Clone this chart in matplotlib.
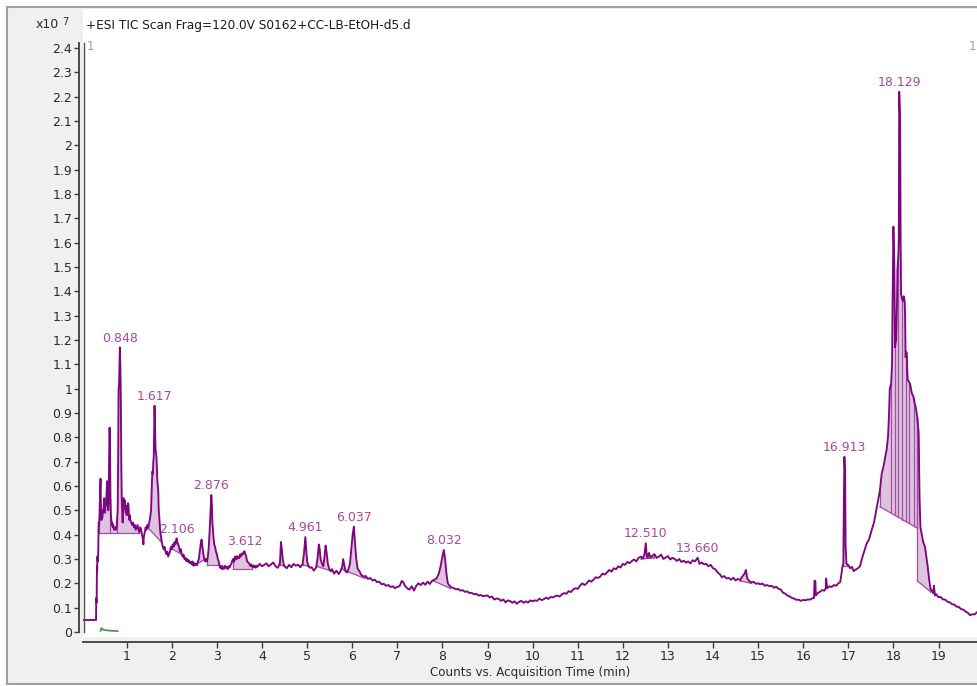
import numpy as np
import matplotlib
matplotlib.use("Agg")
import matplotlib.pyplot as plt
from matplotlib.patches import Rectangle
from matplotlib.lines import Line2D

# ---------------- data (intensity in units of 1e7 counts) ----------------
TITLE = "+ESI TIC Scan Frag=120.0V S0162+CC-LB-EtOH-d5.d"
XLABEL = "Counts vs. Acquisition Time (min)"
X_TICKS = [1, 2, 3, 4, 5, 6, 7, 8, 9, 10, 11, 12, 13, 14, 15, 16, 17, 18, 19]
Y_TICKS = [0, 0.1, 0.2, 0.3, 0.4, 0.5, 0.6, 0.7, 0.8, 0.9, 1.0, 1.1, 1.2,
           1.3, 1.4, 1.5, 1.6, 1.7, 1.8, 1.9, 2.0, 2.1, 2.2, 2.3, 2.4]
Y_TICK_LABELS = ["0", "0.1", "0.2", "0.3", "0.4", "0.5", "0.6", "0.7", "0.8",
                 "0.9", "1", "1.1", "1.2", "1.3", "1.4", "1.5", "1.6", "1.7",
                 "1.8", "1.9", "2", "2.1", "2.2", "2.3", "2.4"]

seg_void = [(0.05, 0.049), (0.10, 0.05), (0.15, 0.049), (0.20, 0.05), (0.25, 0.049),
            (0.30, 0.05), (0.32, 0.049)]

seg_early = [
    (0.325, 0.14), (0.33, 0.12), (0.335, 0.15), (0.34, 0.27), (0.345, 0.25), (0.35, 0.31),
    (0.36, 0.29), (0.37, 0.33), (0.375, 0.42), (0.38, 0.45), (0.39, 0.44), (0.40, 0.50),
    (0.41, 0.58), (0.42, 0.63), (0.43, 0.50), (0.44, 0.46), (0.45, 0.48), (0.46, 0.47),
    (0.47, 0.50), (0.48, 0.49), (0.49, 0.52), (0.50, 0.55), (0.51, 0.50), (0.52, 0.49),
    (0.53, 0.53), (0.54, 0.52), (0.55, 0.56), (0.56, 0.60), (0.57, 0.62), (0.58, 0.55),
    (0.59, 0.50), (0.60, 0.53), (0.61, 0.72), (0.62, 0.84), (0.63, 0.78), (0.64, 0.55),
    (0.65, 0.48), (0.66, 0.46), (0.67, 0.44), (0.68, 0.45), (0.69, 0.43), (0.70, 0.44),
    (0.72, 0.42), (0.74, 0.43), (0.76, 0.42), (0.78, 0.44), (0.80, 0.50), (0.81, 0.70),
    (0.82, 1.00), (0.83, 1.01), (0.84, 1.10), (0.848, 1.17), (0.86, 1.09), (0.87, 0.95),
    (0.88, 0.70), (0.89, 0.55), (0.90, 0.50), (0.91, 0.45), (0.92, 0.50), (0.93, 0.55),
    (0.94, 0.53), (0.95, 0.51), (0.96, 0.54), (0.97, 0.50), (0.98, 0.49), (0.99, 0.51),
    (1.00, 0.48), (1.01, 0.52), (1.02, 0.50), (1.03, 0.53), (1.04, 0.52), (1.05, 0.47),
    (1.06, 0.46), (1.07, 0.48), (1.08, 0.46), (1.10, 0.45), (1.12, 0.44), (1.14, 0.45),
    (1.16, 0.43), (1.18, 0.44), (1.20, 0.42), (1.22, 0.43), (1.24, 0.44), (1.26, 0.42),
    (1.28, 0.41), (1.30, 0.43), (1.32, 0.42), (1.34, 0.40), (1.36, 0.38), (1.37, 0.36),
    (1.38, 0.39), (1.40, 0.41), (1.42, 0.43), (1.44, 0.42), (1.46, 0.44), (1.48, 0.43),
    (1.50, 0.45), (1.52, 0.47), (1.54, 0.50), (1.56, 0.62), (1.57, 0.66), (1.58, 0.65),
    (1.59, 0.70), (1.60, 0.72), (1.617, 0.93), (1.63, 0.82), (1.64, 0.75), (1.66, 0.72),
    (1.68, 0.62), (1.70, 0.58), (1.71, 0.50), (1.72, 0.48), (1.74, 0.42), (1.76, 0.39),
    (1.78, 0.37), (1.80, 0.35), (1.82, 0.34), (1.84, 0.35), (1.86, 0.33), (1.88, 0.32),
    (1.90, 0.33), (1.92, 0.31), (1.94, 0.32), (1.96, 0.33), (1.98, 0.35), (2.00, 0.34),
    (2.02, 0.36), (2.04, 0.35), (2.06, 0.37), (2.08, 0.36), (2.106, 0.385), (2.12, 0.37),
    (2.14, 0.36), (2.16, 0.35), (2.18, 0.33), (2.20, 0.34), (2.22, 0.32), (2.24, 0.31),
    (2.26, 0.318), (2.28, 0.30), (2.30, 0.305), (2.32, 0.292), (2.34, 0.30), (2.36, 0.288),
    (2.38, 0.295), (2.40, 0.283), (2.42, 0.288), (2.44, 0.278), (2.46, 0.29), (2.48, 0.272),
    (2.50, 0.283), (2.52, 0.275), (2.54, 0.28), (2.56, 0.276), (2.58, 0.29), (2.60, 0.30),
    (2.62, 0.33), (2.64, 0.36), (2.66, 0.38), (2.68, 0.35), (2.70, 0.32), (2.72, 0.30),
    (2.74, 0.29), (2.76, 0.30), (2.78, 0.29), (2.80, 0.31), (2.82, 0.35), (2.84, 0.42),
    (2.86, 0.50), (2.876, 0.563), (2.89, 0.52), (2.90, 0.45), (2.92, 0.40), (2.94, 0.36),
    (2.96, 0.35), (2.98, 0.33), (3.00, 0.32), (3.02, 0.30), (3.04, 0.29), (3.06, 0.27),
    (3.08, 0.262), (3.10, 0.27), (3.12, 0.258), (3.14, 0.266), (3.16, 0.26), (3.18, 0.272),
    (3.20, 0.264), (3.22, 0.268), (3.24, 0.258), (3.26, 0.27), (3.28, 0.265), (3.30, 0.274),
    (3.32, 0.28), (3.34, 0.293), (3.36, 0.30), (3.38, 0.288), (3.40, 0.31), (3.42, 0.298),
    (3.44, 0.312), (3.46, 0.302), (3.48, 0.31), (3.50, 0.304), (3.52, 0.32), (3.54, 0.312),
    (3.56, 0.323), (3.58, 0.32), (3.60, 0.33), (3.612, 0.332), (3.63, 0.32), (3.65, 0.31),
    (3.67, 0.29), (3.70, 0.285), (3.72, 0.28), (3.74, 0.272), (3.76, 0.278), (3.78, 0.268),
    (3.80, 0.274), (3.82, 0.266), (3.84, 0.272), (3.86, 0.264), (3.88, 0.272)]

seg_mid = [
    (3.90, 0.268), (3.95, 0.28), (4.00, 0.27), (4.05, 0.276), (4.10, 0.282), (4.15, 0.27),
    (4.20, 0.278), (4.25, 0.286), (4.30, 0.27), (4.35, 0.264), (4.38, 0.275), (4.40, 0.29),
    (4.42, 0.37), (4.44, 0.34), (4.46, 0.30), (4.48, 0.28), (4.50, 0.27), (4.55, 0.262),
    (4.60, 0.276), (4.65, 0.266), (4.70, 0.28), (4.75, 0.272), (4.80, 0.277), (4.85, 0.266),
    (4.90, 0.28), (4.93, 0.32), (4.961, 0.39), (4.98, 0.34), (5.00, 0.29), (5.03, 0.27),
    (5.07, 0.264), (5.10, 0.266), (5.15, 0.252), (5.20, 0.265), (5.23, 0.30), (5.26, 0.36),
    (5.28, 0.34), (5.30, 0.30), (5.33, 0.28), (5.36, 0.27), (5.38, 0.30), (5.41, 0.355),
    (5.43, 0.33), (5.46, 0.28), (5.49, 0.26), (5.52, 0.25), (5.55, 0.258), (5.60, 0.24),
    (5.65, 0.252), (5.70, 0.238), (5.74, 0.25), (5.78, 0.27), (5.80, 0.30), (5.82, 0.28),
    (5.85, 0.25), (5.88, 0.245), (5.92, 0.26), (5.95, 0.28), (5.98, 0.34), (6.01, 0.40),
    (6.037, 0.433), (6.06, 0.37), (6.09, 0.30), (6.12, 0.26), (6.16, 0.25), (6.20, 0.235),
    (6.25, 0.228), (6.30, 0.23), (6.35, 0.218), (6.40, 0.222), (6.45, 0.212), (6.50, 0.215),
    (6.55, 0.205), (6.60, 0.207), (6.65, 0.196), (6.70, 0.198), (6.75, 0.19), (6.80, 0.193),
    (6.85, 0.185), (6.90, 0.188), (6.95, 0.18), (7.00, 0.186), (7.05, 0.188), (7.10, 0.21),
    (7.13, 0.205), (7.17, 0.19), (7.22, 0.18), (7.27, 0.174), (7.32, 0.188), (7.37, 0.17),
    (7.42, 0.19), (7.47, 0.20), (7.52, 0.193), (7.57, 0.203), (7.62, 0.194), (7.67, 0.207),
    (7.72, 0.197), (7.77, 0.21), (7.82, 0.215), (7.87, 0.22), (7.92, 0.24), (7.96, 0.27),
    (8.00, 0.31), (8.032, 0.337), (8.06, 0.30), (8.09, 0.24), (8.12, 0.20), (8.16, 0.19),
    (8.20, 0.183), (8.25, 0.181), (8.30, 0.175), (8.35, 0.177), (8.40, 0.17), (8.45, 0.172),
    (8.50, 0.165), (8.55, 0.167), (8.60, 0.16), (8.65, 0.161), (8.70, 0.155), (8.75, 0.157),
    (8.80, 0.15), (8.85, 0.152), (8.90, 0.147), (8.95, 0.149)]

seg_late = [
    (9.00, 0.15), (9.05, 0.142), (9.10, 0.146), (9.15, 0.133), (9.20, 0.138), (9.25, 0.136),
    (9.30, 0.128), (9.35, 0.134), (9.40, 0.122), (9.45, 0.13), (9.50, 0.127), (9.55, 0.12),
    (9.60, 0.126), (9.65, 0.116), (9.70, 0.124), (9.75, 0.128), (9.80, 0.12), (9.85, 0.126),
    (9.90, 0.121), (9.95, 0.13), (10.00, 0.126), (10.05, 0.13), (10.10, 0.128),
    (10.15, 0.137), (10.20, 0.131), (10.25, 0.135), (10.30, 0.141), (10.35, 0.136),
    (10.40, 0.144), (10.45, 0.142), (10.50, 0.147), (10.55, 0.15), (10.60, 0.146),
    (10.65, 0.155), (10.70, 0.16), (10.75, 0.157), (10.80, 0.168), (10.85, 0.164),
    (10.90, 0.175), (10.95, 0.18), (11.00, 0.177), (11.05, 0.19), (11.10, 0.20),
    (11.15, 0.193), (11.20, 0.20), (11.25, 0.212), (11.30, 0.207), (11.35, 0.215),
    (11.40, 0.225), (11.45, 0.222), (11.50, 0.228), (11.55, 0.24), (11.60, 0.236),
    (11.65, 0.245), (11.70, 0.255), (11.75, 0.248), (11.80, 0.262), (11.85, 0.258),
    (11.90, 0.27), (11.95, 0.265), (12.00, 0.28), (12.05, 0.276), (12.10, 0.288),
    (12.15, 0.283), (12.20, 0.292), (12.25, 0.298), (12.30, 0.29), (12.35, 0.305),
    (12.40, 0.31), (12.45, 0.302), (12.48, 0.32), (12.51, 0.365), (12.53, 0.315),
    (12.55, 0.305), (12.58, 0.325), (12.62, 0.305), (12.65, 0.312), (12.70, 0.32),
    (12.75, 0.305), (12.80, 0.31), (12.85, 0.318), (12.90, 0.30), (12.95, 0.306),
    (13.00, 0.312), (13.05, 0.298), (13.10, 0.305), (13.15, 0.30), (13.20, 0.292),
    (13.25, 0.30), (13.30, 0.288), (13.35, 0.293), (13.40, 0.285), (13.45, 0.29),
    (13.50, 0.282), (13.55, 0.295), (13.60, 0.29), (13.66, 0.305), (13.70, 0.28),
    (13.75, 0.286), (13.80, 0.278), (13.85, 0.28), (13.90, 0.27), (13.95, 0.276),
    (14.00, 0.262), (14.05, 0.258), (14.10, 0.245), (14.15, 0.238), (14.20, 0.225),
    (14.25, 0.23), (14.30, 0.22), (14.35, 0.222), (14.40, 0.215), (14.45, 0.223),
    (14.50, 0.212), (14.55, 0.218), (14.60, 0.214), (14.65, 0.228), (14.70, 0.24),
    (14.73, 0.255), (14.76, 0.22), (14.80, 0.21), (14.85, 0.204), (14.90, 0.206),
    (14.95, 0.198), (15.00, 0.20), (15.05, 0.196), (15.10, 0.199), (15.15, 0.19),
    (15.20, 0.193), (15.25, 0.188), (15.30, 0.19), (15.35, 0.182), (15.40, 0.186),
    (15.45, 0.178), (15.50, 0.175), (15.55, 0.162), (15.60, 0.158), (15.65, 0.15),
    (15.70, 0.146), (15.75, 0.14), (15.80, 0.137), (15.85, 0.132), (15.90, 0.133),
    (15.95, 0.128), (16.00, 0.132), (16.05, 0.13), (16.10, 0.134), (16.15, 0.133),
    (16.20, 0.138), (16.24, 0.14), (16.25, 0.21), (16.27, 0.21), (16.28, 0.15),
    (16.32, 0.16), (16.37, 0.165), (16.42, 0.172), (16.47, 0.17), (16.50, 0.18),
    (16.51, 0.22), (16.53, 0.18), (16.58, 0.188), (16.63, 0.185), (16.68, 0.193),
    (16.73, 0.19), (16.78, 0.20), (16.82, 0.205), (16.85, 0.24), (16.87, 0.27),
    (16.89, 0.28), (16.90, 0.50), (16.913, 0.72), (16.93, 0.65), (16.94, 0.35),
    (16.96, 0.28), (17.00, 0.275), (17.04, 0.262), (17.08, 0.268), (17.12, 0.25),
    (17.15, 0.255), (17.20, 0.26), (17.26, 0.27)]

seg_main = [
    (17.30, 0.30), (17.35, 0.33), (17.41, 0.365), (17.46, 0.38), (17.52, 0.42),
    (17.57, 0.45), (17.62, 0.50), (17.66, 0.54), (17.70, 0.58), (17.74, 0.65),
    (17.78, 0.68), (17.82, 0.72), (17.85, 0.75), (17.88, 0.80), (17.90, 0.88),
    (17.92, 1.00), (17.95, 1.02), (17.97, 1.10), (17.98, 1.32), (18.00, 1.666),
    (18.01, 1.60), (18.02, 1.515), (18.036, 1.17), (18.06, 1.20), (18.08, 1.35),
    (18.09, 1.49), (18.11, 1.55), (18.12, 1.62), (18.129, 2.22), (18.14, 2.15),
    (18.15, 2.10), (18.16, 1.60), (18.17, 1.39), (18.19, 1.37), (18.21, 1.36),
    (18.23, 1.38), (18.25, 1.36), (18.26, 1.30), (18.27, 1.13), (18.29, 1.15),
    (18.30, 1.13), (18.31, 1.06), (18.32, 1.035), (18.34, 1.03), (18.37, 1.02),
    (18.39, 1.00), (18.41, 0.98), (18.44, 0.97), (18.47, 0.94), (18.50, 0.92),
    (18.53, 0.88), (18.56, 0.82), (18.58, 0.55), (18.60, 0.43), (18.63, 0.40),
    (18.66, 0.37), (18.70, 0.35), (18.73, 0.31), (18.76, 0.27), (18.79, 0.22),
    (18.82, 0.18), (18.85, 0.17), (18.88, 0.16), (18.90, 0.19), (18.92, 0.15)]

seg_tail = [
    (18.95, 0.155), (19.00, 0.143), (19.05, 0.144), (19.10, 0.134), (19.15, 0.133),
    (19.20, 0.124), (19.25, 0.122), (19.30, 0.114), (19.35, 0.113), (19.40, 0.104),
    (19.45, 0.103), (19.50, 0.094), (19.55, 0.092), (19.60, 0.084), (19.65, 0.079),
    (19.70, 0.069), (19.75, 0.073), (19.80, 0.072), (19.85, 0.081), (19.90, 0.085)]

# small green trace near the start
GREEN_RT = [0.42, 0.44, 0.46, 0.50, 0.55, 0.60, 0.65, 0.70, 0.75, 0.80]
GREEN_TIC = [0.005, 0.016, 0.012, 0.008, 0.007, 0.006, 0.005, 0.005, 0.004, 0.004]

# integrated peak regions: start, end, baseline at start, baseline at end
INT_START = [0.39, 1.45, 1.97, 2.56, 2.79, 3.36, 4.40, 4.90, 5.21, 5.77, 5.90, 7.80,
             12.40, 14.60, 16.88, 17.70, 18.53]
INT_END = [1.28, 1.76, 2.24, 2.74, 3.12, 3.77, 4.51, 5.05, 5.55, 5.86, 6.28, 8.17,
           12.70, 14.85, 16.97, 18.53, 18.82]
INT_BASE0 = [0.407, 0.433, 0.345, 0.28, 0.275, 0.26, 0.275, 0.275, 0.27, 0.26, 0.248,
             0.21, 0.30, 0.21, 0.27, 0.515, 0.21]
INT_BASE1 = [0.407, 0.371, 0.317, 0.30, 0.275, 0.26, 0.27, 0.27, 0.25, 0.25, 0.22,
             0.18, 0.305, 0.20, 0.27, 0.427, 0.166]
INT_SPLITS = [0.64, 0.79, 17.95, 18.04, 18.10, 18.20, 18.27, 18.35, 18.45]

PEAK_LABELS = ["0.848", "1.617", "2.106", "2.876", "3.612", "4.961", "6.037", "8.032",
               "12.510", "13.660", "16.913", "18.129"]
PEAK_RT = [0.848, 1.617, 2.106, 2.876, 3.612, 4.961, 6.037, 8.032, 12.510, 13.660,
           16.913, 18.129]

# ---------------- drawing ----------------
TRACE_C = "#7e067e"
FILL_C = "#dec4de"
EDGE_C = "#a24ea2"
LABEL_C = "#a8479f"
AXIS_C = "#3c3c3c"
TEXT_C = "#2a2a2a"

W, H = 978, 686
fig = plt.figure(figsize=(W / 100, H / 100), dpi=100)
fig.patch.set_facecolor("white")


def fx(px):
    return px / W


def fy(py):
    return 1 - py / H


frame = Rectangle((fx(7.5), fy(683.5)), fx(1000) - fx(7.5), fy(6.5) - fy(683.5),
                  transform=fig.transFigure, facecolor="#f0f0f0", edgecolor="#a0a0a0",
                  lw=1.5, zorder=-10)
fig.add_artist(frame)

ax_left, ax_right, ax_top, ax_bot = 83, 978, 9, 637
ax = fig.add_axes([fx(ax_left), fy(ax_bot), fx(ax_right) - fx(ax_left), fy(ax_top) - fy(ax_bot)])
ax.set_facecolor("white")

# pixel mapping derived from the reference axes: t=0 at px 81.6, 45.1 px per minute;
# value 0 at py 632, 243.3 px per unit
x0_px, px_per_min = 81.6, 45.1
y0_px, px_per_unit = 632.0, 243.3
ax.set_xlim((ax_left - x0_px) / px_per_min, (ax_right - x0_px) / px_per_min)
ax.set_ylim((y0_px - ax_bot) / px_per_unit, (y0_px - ax_top) / px_per_unit)

segments = seg_void + seg_early + seg_mid + seg_late + seg_main + seg_tail
rt = np.array([p[0] for p in segments])
tic = np.array([p[1] for p in segments])

# integrated areas
for s, e, b0, b1 in zip(INT_START, INT_END, INT_BASE0, INT_BASE1):
    m = (rt > s) & (rt < e)
    tt = np.concatenate([[s], rt[m], [e]])
    vv = np.concatenate([[np.interp(s, rt, tic)], tic[m], [np.interp(e, rt, tic)]])
    bb = b0 + (b1 - b0) * (tt - s) / (e - s)
    ax.fill_between(tt, bb, vv, where=vv >= bb, interpolate=True, color=FILL_C, lw=0,
                    zorder=1)
    ax.plot([s, e], [b0, b1], color=EDGE_C, lw=0.9, zorder=2)
    ax.plot([s, s], [b0, vv[0]], color=EDGE_C, lw=0.9, zorder=2)
    ax.plot([e, e], [b1, vv[-1]], color=EDGE_C, lw=0.9, zorder=2)

for sp in INT_SPLITS:
    for s, e, b0, b1 in zip(INT_START, INT_END, INT_BASE0, INT_BASE1):
        if s < sp < e:
            b = b0 + (b1 - b0) * (sp - s) / (e - s)
            ax.plot([sp, sp], [b, np.interp(sp, rt, tic)], color=EDGE_C, lw=0.9, zorder=2)

ax.plot(rt, tic, color=TRACE_C, lw=1.35, zorder=3)
ax.plot(GREEN_RT, GREEN_TIC, color="#3a963a", lw=1.2, zorder=3)

# peak labels
for lbl, prt in zip(PEAK_LABELS, PEAK_RT):
    m = np.abs(rt - prt) <= 0.03
    top = tic[m].max()
    ax.annotate(lbl, xy=(prt, top), xytext=(0, 2.0), textcoords="offset points",
                ha="center", va="bottom", color=LABEL_C, fontsize=9, zorder=4)

# axes styling
for s in ["top", "right"]:
    ax.spines[s].set_visible(False)
ax.spines["left"].set_position(("outward", 2.6))
ax.spines["bottom"].set_position(("outward", 3.6))
ax.spines["left"].set_bounds(0, 2.42)
for s in ["left", "bottom"]:
    ax.spines[s].set_color(AXIS_C)
    ax.spines[s].set_linewidth(1.3)

ax.set_yticks(Y_TICKS)
ax.set_yticklabels(Y_TICK_LABELS)
ax.set_xticks(X_TICKS)
ax.set_xticklabels([str(v) for v in X_TICKS])
ax.tick_params(axis="y", direction="out", length=3.6, width=1.0, color=AXIS_C, pad=1.5,
               labelsize=9, labelcolor=TEXT_C)
ax.tick_params(axis="x", direction="out", length=4.3, width=1.0, color=AXIS_C, pad=1.5,
               labelsize=9, labelcolor=TEXT_C)
ax.set_xlabel(XLABEL, fontsize=8.6, color=TEXT_C, labelpad=2)

# second border line at the left of the plot area
fig.add_artist(Line2D([fx(83.8), fx(83.8)], [fy(43), fy(632)], transform=fig.transFigure,
                      color="#505050", lw=1.0))

# header texts
fig.text(fx(36), fy(25), "x10", fontsize=9, color=TEXT_C, va="center", ha="left")
fig.text(fx(62), fy(22), "7", fontsize=7, color=TEXT_C, va="center", ha="left")
fig.text(fx(86), fy(25), TITLE, fontsize=8.7, color="#1a1a1a", va="center", ha="left")
fig.text(fx(87), fy(47), "1", fontsize=8.5, color="#a89a9a", va="center", ha="left")
fig.text(fx(969), fy(47), "1", fontsize=8.5, color="#a89a9a", va="center", ha="left")

fig.savefig("out.png", dpi=100)
